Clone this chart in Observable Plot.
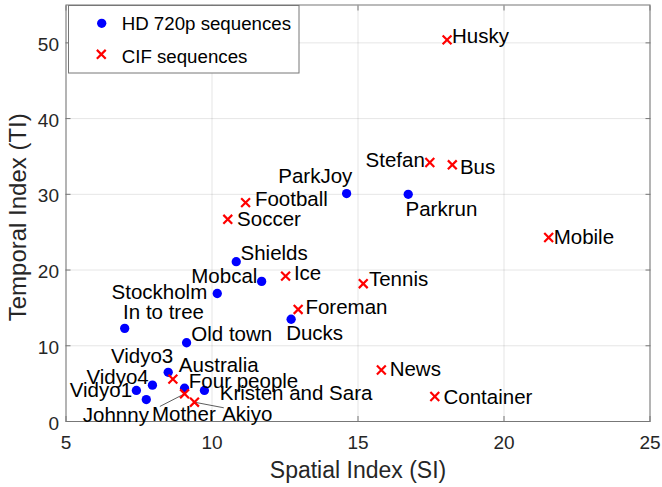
<!DOCTYPE html>
<html><head><meta charset="utf-8">
<script src="https://cdn.jsdelivr.net/npm/d3@7"></script>
<script src="https://cdn.jsdelivr.net/npm/@observablehq/plot@0.6"></script>
<style>body{margin:0;background:#fff;}</style>
</head><body><div id="chart"></div>
<script>
// ---- data ----
const hdNames = ["ParkJoy","Parkrun","Shields","Mobcal","Stockholm","In to tree","Old town","Ducks","Vidyo3","Vidyo4","Vidyo1","Johnny","Four people","Kristen and Sara"];
const hdSI = [14.61,16.72,10.83,11.70,10.18,7.01,9.13,12.71,8.50,7.96,7.41,7.75,9.06,9.74];
const hdTI = [30.1,30.0,21.1,18.5,16.9,12.3,10.4,13.5,6.5,4.8,4.1,2.9,4.4,4.1];
const cifNames = ["Husky","Stefan","Bus","Mobile","Football","Soccer","Ice","Foreman","Tennis","News","Container","Australia","Mother","Akiyo"];
const cifSI = [18.05,17.46,18.23,21.53,11.15,10.54,12.52,12.95,15.18,15.80,17.63,8.66,9.06,9.40];
const cifTI = [50.4,34.2,33.9,24.3,28.9,26.7,19.2,14.8,18.2,6.8,3.3,5.6,3.66,2.55];
const xTicks = [5,10,15,20,25];
const yTicks = [0,10,20,30,40,50];
const seriesNames = ["HD 720p sequences","CIF sequences"];
const xTitle = "Spatial Index (SI)";
const yTitle = "Temporal Index (TI)";

// ---- label placement (anchor, pixel dx, pixel baseline dy) ----
const labelPlace = {
  "ParkJoy":["end",5.7,-10.6], "Parkrun":["start",-2.7,22], "Shields":["start",4.3,-2],
  "Mobcal":["end",-4.3,1.7], "Stockholm":["end",-10,5], "In to tree":["start",-1.6,-9],
  "Old town":["start",4.7,-1.6], "Ducks":["start",-5,21], "Vidyo3":["end",5,-9.4],
  "Vidyo4":["end",-3.7,-1], "Vidyo1":["end",-4.3,6.7], "Johnny":["end",2.6,22],
  "Four people":["start",4.3,-0.4], "Kristen and Sara":["start",15.3,10],
  "Husky":["start",5,2.7], "Stefan":["end",-5,4], "Bus":["start",7.6,9.7],
  "Mobile":["start",5,6.6], "Football":["start",9.3,3.3], "Soccer":["start",9.3,6.7],
  "Ice":["start",8.3,3.6], "Foreman":["start",7.3,4.3], "Tennis":["start",5.7,2.4],
  "News":["start",8.3,6.4], "Container":["start",8.7,7], "Australia":["start",6,-6.6],
  "Mother":["middle",-0.7,27.7], "Akiyo":["start",27.7,19.3]
};
const leaders = {"Mother":[-24.7,12.7], "Akiyo":[29.3,5.6]};

// ---- layout ----
const W = 662, H = 487, mL = 65.5, mR = 12.5, mT = 4.5, mB = 66;
const xDom = [5,25], yDom = [0,55];
const kx = (W - mL - mR) / (xDom[1] - xDom[0]);
const ky = (H - mT - mB) / (yDom[1] - yDom[0]);

const hd = hdNames.map((n,i) => ({name:n, si:hdSI[i], ti:hdTI[i]}));
const cif = cifNames.map((n,i) => ({name:n, si:cifSI[i], ti:cifTI[i]}));
const all = hd.concat(cif);
const leaderData = cif.filter(d => leaders[d.name]).map(d => ({
  x1:d.si, y1:d.ti, x2:d.si + leaders[d.name][0]/kx, y2:d.ti - leaders[d.name][1]/ky
}));

const blue = "#0000ff", red = "#ff0000", axisCol = "#777", txtCol = "#262626";
const labelFont = 20.5, crossR = 4.1, dotR = 4.65;

const labelMarks = all.map(d => {
  const [a, dx, dy] = labelPlace[d.name];
  return Plot.text([d], {x:"si", y:"ti", text:"name", textAnchor:a, lineAnchor:"bottom", dx, dy, fontSize:labelFont, fill:"#000"});
});

const plot = Plot.plot({
  width: W, height: H,
  marginLeft: mL, marginRight: mR, marginTop: mT, marginBottom: mB,
  style: {fontFamily: "'Liberation Sans', Arial, Helvetica, sans-serif", background: "#fff", overflow: "visible"},
  x: {domain: xDom},
  y: {domain: yDom},
  marks: [
    Plot.gridX(xTicks, {stroke:"#000", strokeOpacity:0.1}),
    Plot.gridY(yTicks, {stroke:"#000", strokeOpacity:0.1}),
    Plot.frame({stroke: axisCol}),
    Plot.axisX(xTicks, {tickSize:0, tickPadding:14, fontSize:19, fill:txtCol, label:null}),
    Plot.axisX(xTicks, {tickSize:-5, fill:"none", stroke:axisCol, label:null}),
    Plot.axisX(xTicks, {anchor:"top", tickSize:-5, fill:"none", stroke:axisCol, label:null}),
    Plot.axisY(yTicks, {tickSize:0, tickPadding:7, dy:2, fontSize:19, fill:txtCol, label:null}),
    Plot.axisY(yTicks, {tickSize:-5, fill:"none", stroke:axisCol, label:null}),
    Plot.axisY(yTicks, {anchor:"right", tickSize:-5, fill:"none", stroke:axisCol, label:null}),
    Plot.link(leaderData, {x1:"x1", y1:"y1", x2:"x2", y2:"y2", stroke:"#333", strokeWidth:0.8}),
    Plot.dot(hd, {x:"si", y:"ti", r:dotR, fill:blue}),
    Plot.dot(cif, {x:"si", y:"ti", symbol:"times", r:crossR, stroke:red, strokeWidth:2.2}),
    ...labelMarks,
    Plot.text([xTitle], {text:d=>d, frameAnchor:"bottom", textAnchor:"middle", lineAnchor:"bottom", dy:56.5, fontSize:23, fill:txtCol}),
    Plot.text([yTitle], {text:d=>d, frameAnchor:"left", textAnchor:"middle", lineAnchor:"bottom", rotate:-90, dx:-40.5, dy:4, fontSize:24, fill:txtCol})
  ]
});

// ---- legend (inside axes, top-left) ----
const svg = d3.select(plot);
const g = svg.append("g").attr("class","legend").attr("text-anchor","start");
g.append("rect").attr("x",68.5).attr("y",5.5).attr("width",230.5).attr("height",67.5)
  .attr("fill","#fff").attr("stroke",axisCol);
g.append("circle").attr("cx",101.7).attr("cy",23.3).attr("r",dotR).attr("fill",blue);
g.append("path").attr("transform","translate(101.3,54.3)")
  .attr("d", d3.symbol(d3.symbolTimes, Math.PI*crossR*crossR)())
  .attr("fill","none").attr("stroke",red).attr("stroke-width",2.2);
g.selectAll("text.lg").data(seriesNames).join("text").attr("class","lg")
  .attr("x",121.7).attr("y",(d,i) => i ? 63.3 : 30)
  .attr("text-anchor","start")
  .attr("font-size",18.7).attr("fill","#000").text(d => d);

document.getElementById("chart").appendChild(plot);
</script>
</body></html>
